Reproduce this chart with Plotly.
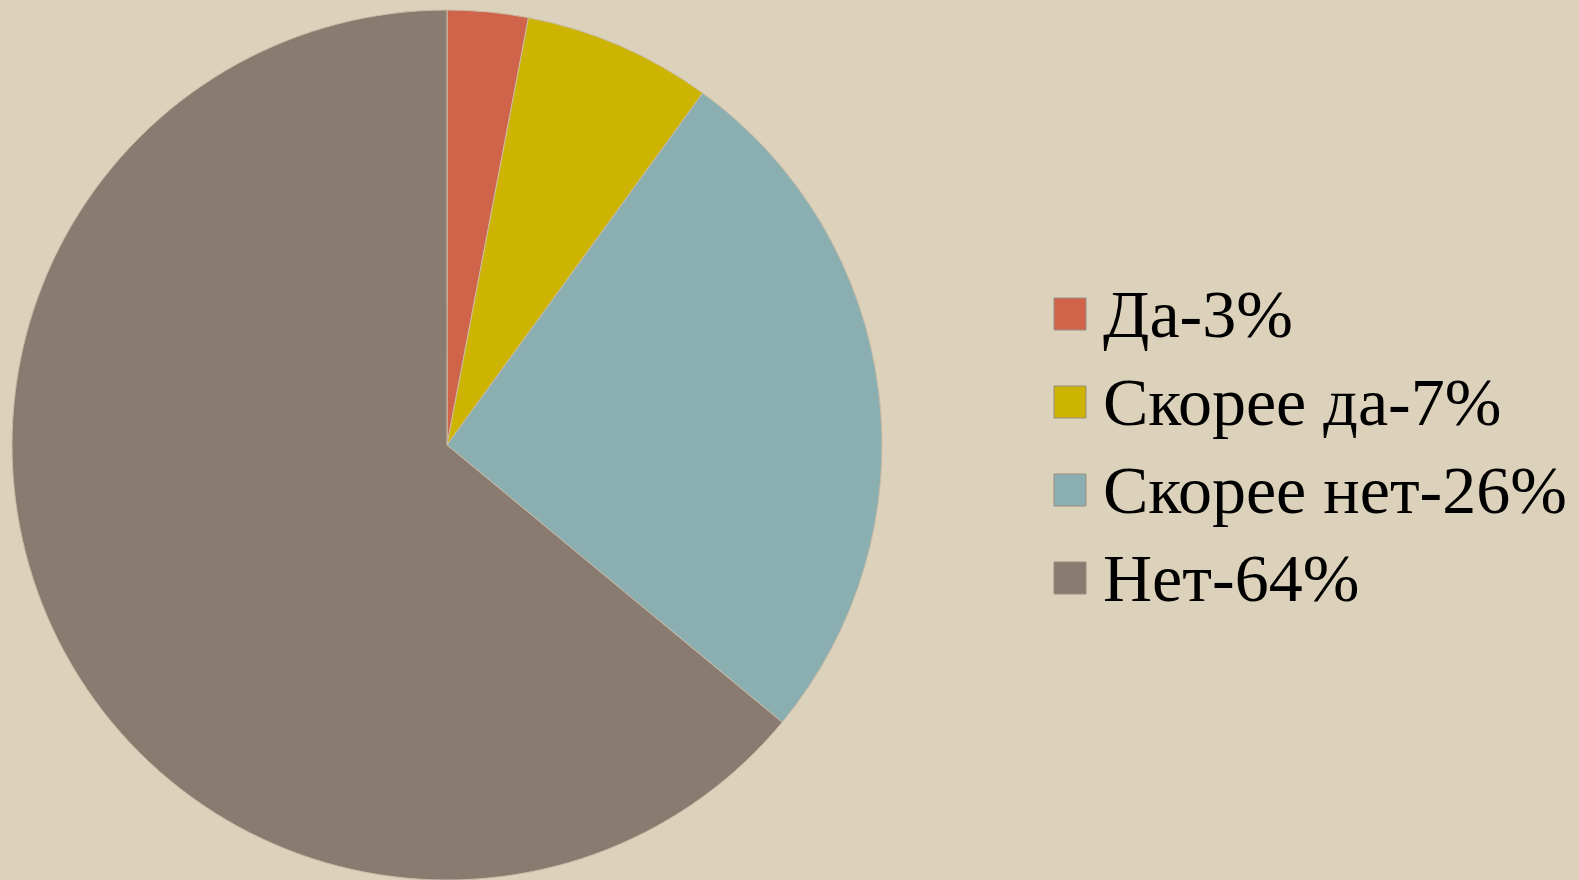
import plotly.graph_objects as go

labels = ["Да-3%", "Скорее да-7%", "Скорее нет-26%", "Нет-64%"]
values = [3, 7, 26, 64]
colors = ["#D0644A", "#CDB402", "#8BAEB0", "#8A7B71"]

W, H = 1579, 880
TOP = 10
BG = "#DCD1BA"

fig = go.Figure()
fig.add_trace(go.Pie(
    labels=labels,
    values=values,
    sort=False,
    direction="clockwise",
    rotation=0,
    marker=dict(colors=colors, line=dict(color="#C9BBA6", width=1)),
    textinfo="none",
    hoverinfo="label",
    showlegend=False,
    domain=dict(x=[12 / W, 882 / W], y=[0, 1]),
))

# custom legend (large squares + large serif text)
leg_x0 = 1054
sq = 32
row0 = 314
step = 88
ph = H - TOP


def py(pix):
    return 1 - (pix - TOP) / ph


shapes = []
annotations = []
for i, (lab, col) in enumerate(zip(labels, colors)):
    cy = row0 + i * step
    shapes.append(dict(
        type="rect", xref="paper", yref="paper",
        x0=leg_x0 / W, x1=(leg_x0 + sq) / W,
        y0=py(cy + sq / 2), y1=py(cy - sq / 2),
        fillcolor=col, line=dict(color="#9a8f80", width=1),
    ))
    annotations.append(dict(
        xref="paper", yref="paper",
        x=1101 / W, y=py(cy),
        xanchor="left", yanchor="middle",
        text=lab, showarrow=False,
        font=dict(family="Liberation Serif, DejaVu Serif, serif", size=68, color="#000000"),
    ))

fig.update_layout(
    width=W, height=H,
    margin=dict(l=0, r=0, t=TOP, b=0),
    paper_bgcolor=BG,
    plot_bgcolor=BG,
    shapes=shapes,
    annotations=annotations,
)

fig.write_html(
    "out.html",
    config={"displayModeBar": False},
    post_script="document.body.style.margin='0';document.body.style.background='" + BG + "';",
)
